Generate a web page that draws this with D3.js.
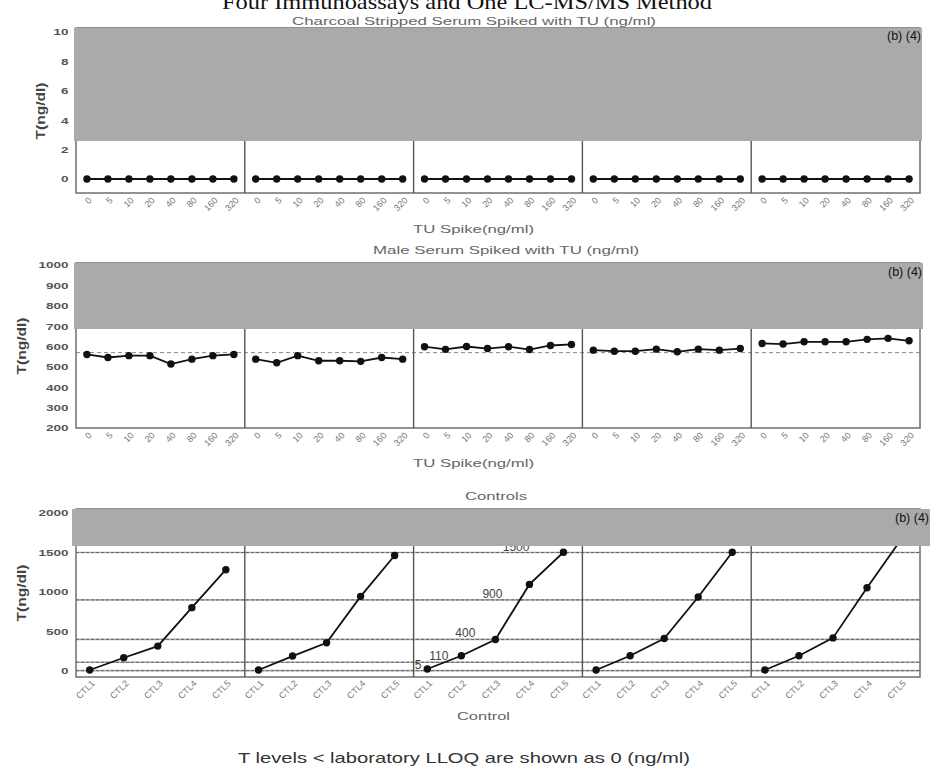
<!DOCTYPE html>
<html>
<head>
<meta charset="utf-8">
<script src="https://cdn.jsdelivr.net/npm/d3@7/dist/d3.min.js"></script>
<style>
  body { margin: 0; background: #fff; }
  svg { display: block; }
</style>
</head>
<body>
<svg id="chart" width="932" height="777"></svg>
<script>
// ---- data -------------------------------------------------------------
const spikeLevels = ["0", "5", "10", "20", "40", "80", "160", "320"];
const controlLevels = ["CTL1", "CTL2", "CTL3", "CTL4", "CTL5"];

// Charcoal stripped serum spiked with TU: T (ng/dl) per assay
const charcoalSerum = [
  [0, 0, 0, 0, 0, 0, 0, 0],
  [0, 0, 0, 0, 0, 0, 0, 0],
  [0, 0, 0, 0, 0, 0, 0, 0],
  [0, 0, 0, 0, 0, 0, 0, 0],
  [0, 0, 0, 0, 0, 0, 0, 0]
];

// Male serum spiked with TU: T (ng/dl) per assay
const maleSerum = [
  [561, 546, 555, 555, 514, 538, 555, 561],
  [538, 520, 555, 530, 530, 527, 546, 538],
  [599, 586, 600, 590, 599, 585, 605, 610],
  [582, 577, 577, 587, 574, 587, 582, 590],
  [615, 612, 623, 623, 623, 635, 640, 628]
];
const maleSerumReference = 570;

// Controls: T (ng/dl) per assay
const controls = [
  [13, 168, 315, 802, 1282],
  [13, 189, 357, 945, 1462],
  [25, 193, 399, 1096, 1503],
  [13, 193, 412, 936, 1503],
  [13, 193, 419, 1054, 1664]
];
const controlTargets = [5, 110, 400, 900, 1500];
const targetLabels = ["5", "110", "400", "900", "1500"];

const charcoalTicks = [0, 2, 4, 6, 8, 10];
const maleTicks = [200, 300, 400, 500, 600, 700, 800, 900, 1000];
const controlTicks = [0, 500, 1000, 1500, 2000];

// ---- layout -------------------------------------------------------------
const FONT = '"Liberation Sans", Arial, Helvetica, sans-serif';
const left = 76, right = 920, nPanels = 5;
const panelW = (right - left) / nPanels;
const stretch = 1.5; // horizontal widening of small labels

const svg = d3.select("#chart");
svg.append("rect").attr("width", 932).attr("height", 777).attr("fill", "#fff");

function addText(x, y, str, opts) {
  const o = Object.assign({ size: 11, fill: "#555", anchor: "start", weight: "normal", family: FONT }, opts);
  const t = svg.append("text")
    .attr("x", x).attr("y", y)
    .attr("font-family", o.family)
    .attr("font-size", o.size)
    .attr("font-weight", o.weight)
    .attr("fill", o.fill)
    .attr("text-anchor", o.anchor)
    .text(str);
  if (o.length) t.attr("textLength", o.length).attr("lengthAdjust", "spacingAndGlyphs");
  return t;
}

const rows = [
  {
    series: charcoalSerum, cats: spikeLevels, ticks: charcoalTicks,
    yDomain: [0, 10], yRange: [179, 32], bottom: 193,
    grey: { x0: 74, x1: 922, y0: 28, y1: 141 }, stamp: { x: 921, y: 40 },
    pad: 0.52, align: 0.5, yTitle: { x: 45, y: 111 }, tickDy: 8
  },
  {
    series: maleSerum, cats: spikeLevels, ticks: maleTicks,
    yDomain: [200, 1000], yRange: [428, 265], bottom: 428,
    grey: { x0: 74, x1: 923, y0: 263, y1: 329 }, stamp: { x: 922, y: 276 },
    pad: 0.52, align: 0.5, yTitle: { x: 26, y: 346 }, tickDy: 8
  },
  {
    series: controls, cats: controlLevels, ticks: controlTicks,
    yDomain: [0, 2000], yRange: [671, 513], bottom: 677,
    grey: { x0: 72, x1: 930, y0: 509, y1: 546 }, stamp: { x: 929, y: 522 },
    pad: 0.48, align: 0.42, yTitle: { x: 26, y: 593 }, tickDy: 7
  }
];

rows.forEach((row, ri) => {
  const y = d3.scaleLinear().domain(row.yDomain).range(row.yRange);
  const g = svg.append("g");

  // reference lines behind the data
  if (ri === 1) {
    g.append("line")
      .attr("x1", left).attr("x2", right)
      .attr("y1", y(maleSerumReference)).attr("y2", y(maleSerumReference))
      .attr("stroke", "#888").attr("stroke-width", 1).attr("stroke-dasharray", "4,3");
  }
  if (ri === 2) {
    controlTargets.forEach(v => {
      g.append("line")
        .attr("x1", left).attr("x2", right).attr("y1", y(v)).attr("y2", y(v))
        .attr("stroke", "#aaa").attr("stroke-width", 1.6);
      g.append("line")
        .attr("x1", left).attr("x2", right).attr("y1", y(v)).attr("y2", y(v))
        .attr("stroke", "#666").attr("stroke-width", 1).attr("stroke-dasharray", "3,2");
    });
  }

  // panel frames
  g.append("rect")
    .attr("x", left).attr("y", row.grey.y0)
    .attr("width", right - left).attr("height", row.bottom - row.grey.y0)
    .attr("fill", "none").attr("stroke", "#777").attr("stroke-width", 1.6);
  for (let i = 1; i < nPanels; i++) {
    g.append("line")
      .attr("x1", left + i * panelW).attr("x2", left + i * panelW)
      .attr("y1", row.grey.y0).attr("y2", row.bottom)
      .attr("stroke", "#555").attr("stroke-width", 1.4);
  }

  // y axis
  const yAxis = svg.append("g")
    .attr("transform", `translate(${left},0)`)
    .call(d3.axisLeft(y).tickValues(row.ticks).tickSize(0).tickPadding(5).tickFormat(d3.format("d")));
  yAxis.select(".domain").remove();
  yAxis.selectAll("text")
    .attr("font-family", FONT).attr("font-size", 9).attr("font-weight", "bold")
    .attr("fill", "#555").attr("transform", `scale(${stretch},1)`);

  // each assay panel
  row.series.forEach((vals, pi) => {
    const x0 = left + pi * panelW;
    const x = d3.scalePoint().domain(row.cats).range([x0, x0 + panelW])
      .padding(row.pad).align(row.align);

    const xAxis = svg.append("g")
      .attr("transform", `translate(0,${row.bottom})`)
      .call(d3.axisBottom(x).tickSize(0));
    xAxis.select(".domain").remove();
    xAxis.selectAll("text")
      .attr("font-family", FONT).attr("font-size", 9).attr("fill", "#777")
      .attr("x", 0).attr("y", 0).attr("dy", 0)
      .attr("text-anchor", "end")
      .attr("transform", `translate(5,${row.tickDy}) rotate(-45)`);

    const pts = vals.map((v, i) => [x(row.cats[i]), y(v)]);
    g.append("path")
      .attr("d", d3.line()(pts))
      .attr("fill", "none").attr("stroke", "#111").attr("stroke-width", 1.8);
    g.selectAll(null).data(pts).join("circle")
      .attr("cx", d => d[0]).attr("cy", d => d[1]).attr("r", 3.7).attr("fill", "#111");

    // target labels in the middle controls panel, stepping left of each control point
    if (ri === 2 && pi === 2) {
      controlTargets.forEach((v, i) => {
        addText(x(row.cats[i]) - 6 - 7 * i, y(v) - 2, targetLabels[i],
          { size: 12, fill: "#444", anchor: "end" });
      });
    }
  });

  // grey band over the top of each row
  svg.append("rect")
    .attr("x", row.grey.x0).attr("y", row.grey.y0)
    .attr("width", row.grey.x1 - row.grey.x0).attr("height", row.grey.y1 - row.grey.y0)
    .attr("fill", "#aaaaaa");
  addText(row.stamp.x, row.stamp.y, "(b) (4)", { size: 12.5, fill: "#111", anchor: "end" });

  // y axis title
  svg.append("text")
    .attr("transform", `translate(${row.yTitle.x},${row.yTitle.y}) rotate(-90)`)
    .attr("text-anchor", "middle")
    .attr("font-family", FONT).attr("font-size", 13).attr("font-weight", "bold")
    .attr("fill", "#444")
    .attr("textLength", 57).attr("lengthAdjust", "spacingAndGlyphs")
    .text("T(ng/dl)");
});

// ---- titles -------------------------------------------------------------
addText(222, 9, "Four Immunoassays and One LC-MS/MS Method",
  { size: 21, fill: "#111", family: '"Liberation Serif", "Times New Roman", serif', length: 490 });
addText(292, 25, "Charcoal Stripped Serum Spiked with TU (ng/ml)", { size: 11, fill: "#666", length: 364 });
addText(413, 233, "TU Spike(ng/ml)", { size: 11, fill: "#666", length: 121 });
addText(373, 254, "Male Serum Spiked with TU (ng/ml)", { size: 11, fill: "#666", length: 266 });
addText(413, 467, "TU Spike(ng/ml)", { size: 11, fill: "#666", length: 121 });
addText(465, 500, "Controls", { size: 11, fill: "#666", length: 62 });
addText(457, 720, "Control", { size: 11, fill: "#666", length: 53 });
addText(238, 763, "T levels < laboratory LLOQ are shown as 0 (ng/ml)", { size: 15, fill: "#333", length: 452 });
</script>
</body>
</html>
